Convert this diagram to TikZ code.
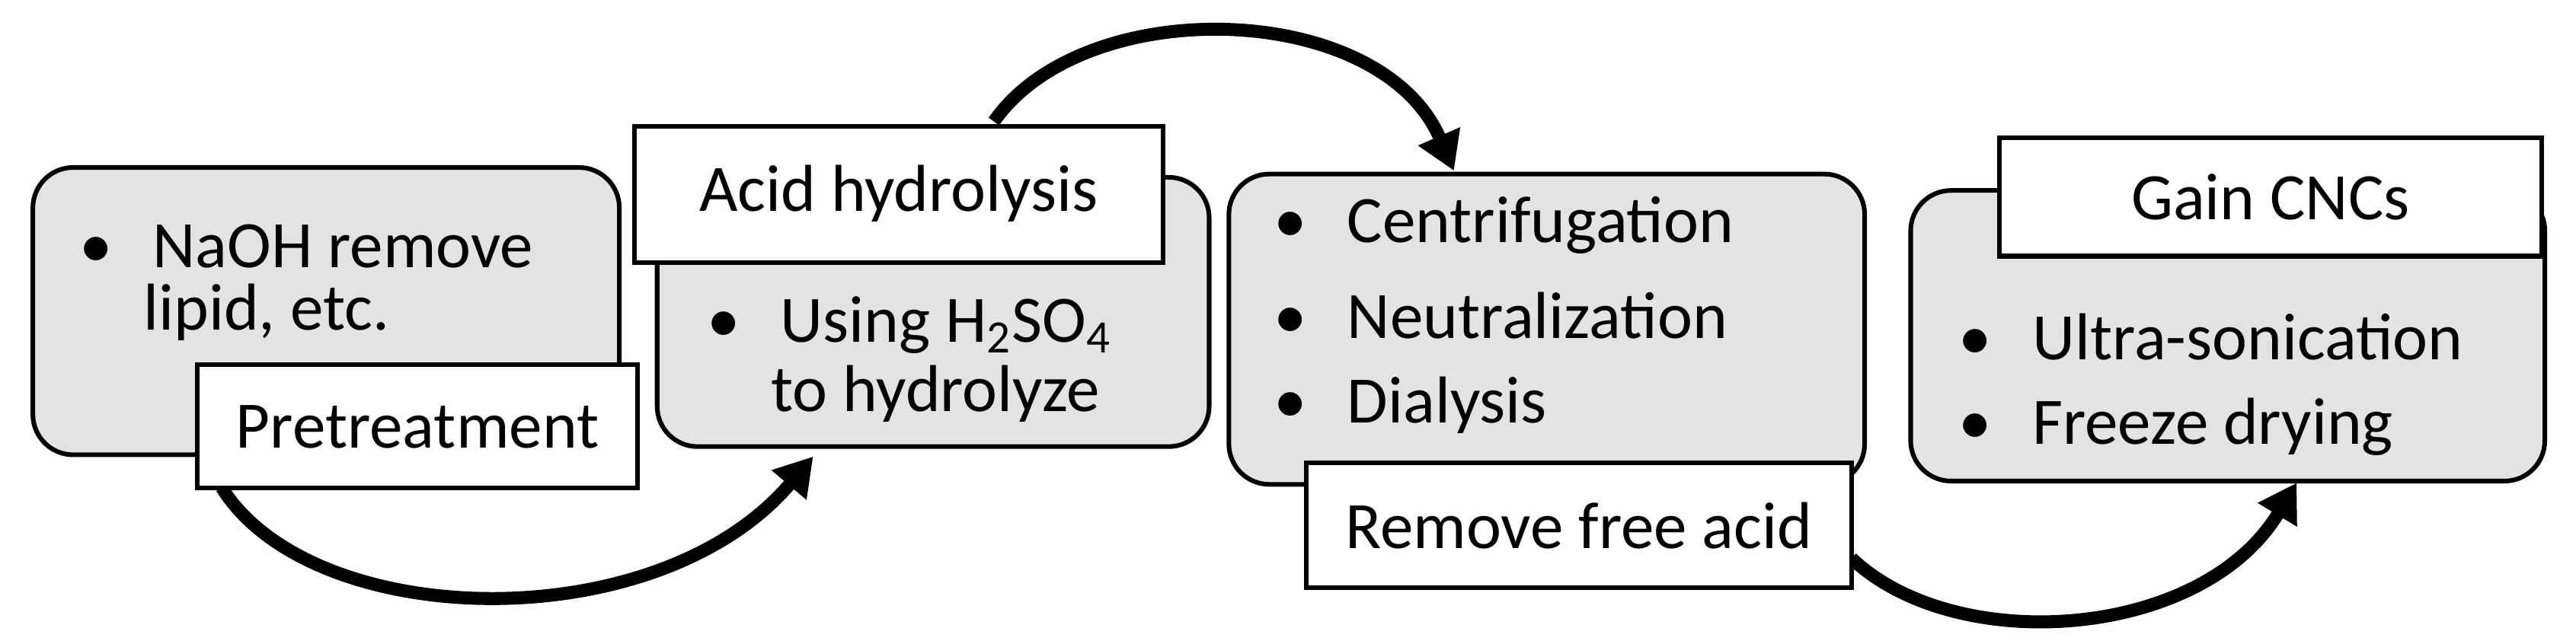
\documentclass[tikz,border=0pt]{standalone}
\usepackage{fontspec}
\setmainfont{Carlito}
\usetikzlibrary{arrows.meta}
\begin{document}
\begin{tikzpicture}[x=0.02cm,y=-0.02cm,
  graybox/.style={draw=black,line width=1.6pt,fill=gray!22,rounded corners=14pt},
  whitebox/.style={draw=black,line width=1.6pt,fill=white,inner sep=0pt},
  txt/.style={font=\fontsize{23}{27}\selectfont,anchor=west,inner sep=0pt},
  flow/.style={line width=4.5pt,-{Triangle[length=13pt,width=15pt]}}]
\useasboundingbox (0,0) rectangle (1568,392);
% gray boxes
\draw[graybox] (20,102) rectangle (377,277);
\draw[graybox] (400,108) rectangle (736,272);
\draw[graybox] (748,106) rectangle (1135,295);
\draw[graybox] (1163,116) rectangle (1549,293);
% box texts
\node[txt] (t1a) at (48,150) {\textbullet\hspace{14pt}NaOH remove};
\node[txt] (t1b) at (87,190) {lipid, etc.};
\node[txt] (t2a) at (430,198) {\textbullet\hspace{14pt}Using H\textsubscript{2}SO\textsubscript{4}};
\node[txt] (t2b) at (469,240) {to hydrolyze};
\node[txt] (t3a) at (775,137) {\textbullet\hspace{14pt}Centrifugation};
\node[txt] (t3b) at (775,192) {\textbullet\hspace{14pt}Neutralization};
\node[txt] (t3c) at (775,247) {\textbullet\hspace{14pt}Dialysis};
\node[txt] (t4a) at (1192,205) {\textbullet\hspace{14pt}Ultra-sonication};
\node[txt] (t4b) at (1192,260) {\textbullet\hspace{14pt}Freeze drying};
% arrows
\coordinate (a1s) at (135,297);
\coordinate (a1e) at (495,278);
\coordinate (a2s) at (605,74);
\coordinate (a2e) at (885,104);
\coordinate (a3s) at (1127,340);
\coordinate (a3e) at (1398,294);
\draw[flow] (a1s) .. controls (190,385) and (400,390) .. (a1e);
\draw[flow] (a2s) .. controls (660,-5) and (840,0) .. (a2e);
\draw[flow] (a3s) .. controls (1190,400) and (1340,390) .. (a3e);
% white label boxes
\draw[whitebox] (120,222) rectangle (388,297);
\node[txt,anchor=center] (l1) at (254,260) {Pretreatment};
\draw[whitebox] (386,77) rectangle (708,160);
\node[txt,anchor=center] (l2) at (547,118) {Acid hydrolysis};
\draw[whitebox] (795,282) rectangle (1127,358);
\node[txt,anchor=center] (l3) at (961,320) {Remove free acid};
\draw[whitebox] (1217,84) rectangle (1547,156);
\node[txt,anchor=center] (l4) at (1382,120) {Gain CNCs};
\end{tikzpicture}
\end{document}
